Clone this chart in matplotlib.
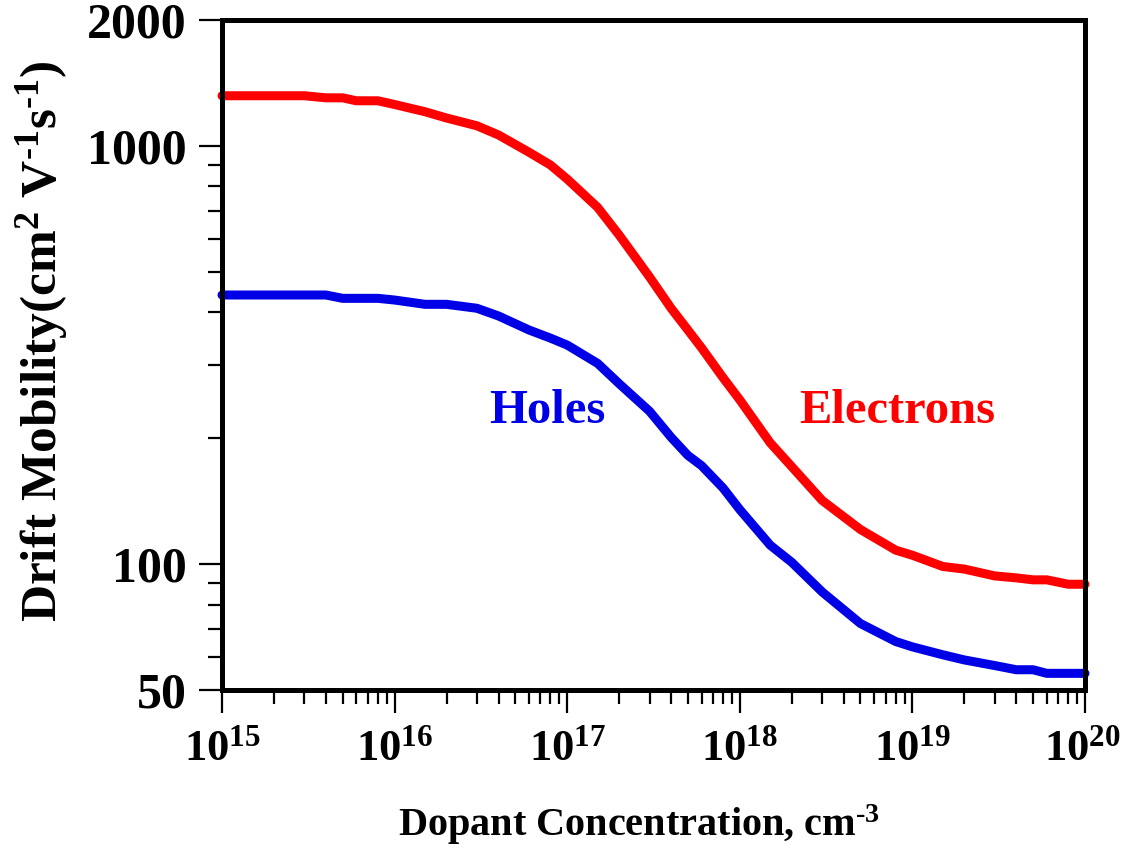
import matplotlib
matplotlib.use("Agg")
import matplotlib.pyplot as plt
from matplotlib.ticker import FixedLocator, NullFormatter, FixedFormatter

# ---- data ----
conc = [1e15, 2e15, 3e15, 4e15, 5e15, 6e15, 8e15, 1e16, 1.5e16, 2e16, 3e16, 4e16,
        6e16, 8e16, 1e17, 1.5e17, 2e17, 3e17, 4e17, 5e17, 6e17, 8e17, 1e18, 1.5e18,
        2e18, 3e18, 5e18, 8e18, 1e19, 1.5e19, 2e19, 3e19, 4e19, 5e19, 6e19, 8e19, 1e20]

electrons = [1318, 1318, 1318, 1303, 1303, 1282, 1282, 1256, 1207, 1166, 1117, 1062,
             966, 900, 833, 713, 612, 486, 409, 363, 329, 279, 247, 195,
             171, 142, 121, 108, 105, 98.7, 97.3, 93.7, 92.7, 91.7, 91.7, 89.5, 89.5]

holes = [440, 440, 440, 440, 432, 432, 432, 428, 418, 418, 409, 392,
         363, 347, 334, 302, 270, 232, 201, 182, 172, 152, 135, 111,
         101, 85.8, 72.1, 65.3, 63.4, 60.7, 59, 57.2, 55.9, 55.9, 54.8, 54.8, 54.8]

x_major = [1e15, 1e16, 1e17, 1e18, 1e19, 1e20]
x_major_labels = [r'$10^{15}$', r'$10^{16}$', r'$10^{17}$', r'$10^{18}$', r'$10^{19}$', r'$10^{20}$']
y_major = [50, 100, 1000, 2000]
y_major_labels = ['50', '100', '1000', '2000']
y_minor = [60, 70, 80, 90, 200, 300, 400, 500, 600, 700, 800, 900]

plt.rcParams['font.family'] = ['Liberation Serif', 'DejaVu Serif']
plt.rcParams['font.weight'] = 'bold'
plt.rcParams['mathtext.fontset'] = 'custom'
plt.rcParams['mathtext.rm'] = 'Liberation Serif:bold'
plt.rcParams['mathtext.it'] = 'Liberation Serif:bold'
plt.rcParams['mathtext.bf'] = 'Liberation Serif:bold'
plt.rcParams['mathtext.default'] = 'rm'

fig = plt.figure(figsize=(11.24, 8.49), dpi=100)
ax = fig.add_axes([222/1124, 1 - 690/849, (1085-222)/1124, (690-20)/849])

ax.plot(conc, electrons, color='#ff0000', lw=6.5, solid_capstyle='round',
        solid_joinstyle='round', clip_on=False, zorder=3)
ax.plot(conc, holes, color='#0000e6', lw=6.5, solid_capstyle='round',
        solid_joinstyle='round', clip_on=False, zorder=3)

ax.set_xscale('log')
ax.set_yscale('log')
ax.set_xlim(1e15, 1e20)
ax.set_ylim(50, 2000)

# x ticks
x_minor = [m * d for d in x_major[:-1] for m in range(2, 10)]
ax.xaxis.set_major_locator(FixedLocator(x_major))
ax.xaxis.set_major_formatter(FixedFormatter(x_major_labels))
ax.xaxis.set_minor_locator(FixedLocator(x_minor))
ax.xaxis.set_minor_formatter(NullFormatter())

# y ticks
ax.yaxis.set_major_locator(FixedLocator(y_major))
ax.yaxis.set_major_formatter(FixedFormatter(y_major_labels))
ax.yaxis.set_minor_locator(FixedLocator(y_minor))
ax.yaxis.set_minor_formatter(NullFormatter())

ax.tick_params(axis='both', which='major', direction='out', length=16.5, width=1.6,
               color='black')
ax.tick_params(axis='x', which='major', labelsize=32, pad=12)
ax.tick_params(axis='y', which='major', labelsize=36, pad=9)
ax.tick_params(axis='both', which='minor', direction='out', length=10, width=1.6)
ax.tick_params(top=False, right=False, which='both')

# keep the last x label inside the figure, as in the reference
for lbl in ax.get_xticklabels():
    lbl.set_ha('center')
last = ax.get_xticklabels()[-1]
last.set_ha('right')
import matplotlib.transforms as mtrans
last.set_transform(last.get_transform() + mtrans.ScaledTranslation(36/100, 0, fig.dpi_scale_trans))

for s in ax.spines.values():
    s.set_linewidth(3.6)
    s.set_zorder(4)

ax.set_xlabel('Dopant Concentration, cm$^{\u2010 3}$'.replace(' 3', '3'), fontsize=29, fontweight='bold')
ax.xaxis.set_label_coords(0.483, -0.2015)
ax.xaxis.label.set_va('center')
ax.set_ylabel('Drift Mobility(cm$^{2}$ V$^{\u20101}$s$^{\u20101}$)', fontsize=37, fontweight='bold')
ax.yaxis.set_label_coords(-0.2086, 0.521)
ax.yaxis.label.set_va('center')

ax.text(0.3766, 0.3985, 'Holes', transform=ax.transAxes, color='#0000e6',
        fontsize=35, fontweight='bold', ha='center', va='baseline')
ax.text(0.782, 0.3985, 'Electrons', transform=ax.transAxes, color='#ff0000',
        fontsize=35, fontweight='bold', ha='center', va='baseline')

fig.savefig('out.png', dpi=100)
